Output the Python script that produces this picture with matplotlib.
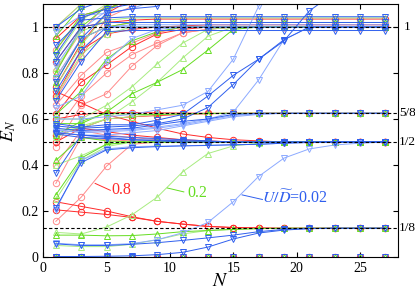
import matplotlib
matplotlib.use("Agg")
import matplotlib.pyplot as plt

plt.rcParams['font.family'] = 'serif'
plt.rcParams['font.serif'] = ['Liberation Serif', 'DejaVu Serif']
plt.rcParams['mathtext.fontset'] = 'stix'

N = [1, 3, 5, 7, 9, 11, 13, 15, 17, 19, 21, 23, 25, 27]

red_main = [
    [0.000, 0.000, 0.000, 0.000, 0.000, 0.000, 0.000, 0.000, 0.000, 0.000, 0.000, 0.000, 0.000, 0.000],
    [0.240, 0.220, 0.200, 0.175, 0.155, 0.143, 0.133, 0.128, 0.126, 0.125, 0.125, 0.125, 0.125, 0.125],
    [0.205, 0.195, 0.185, 0.172, 0.155, 0.143, 0.133, 0.128, 0.126, 0.125, 0.125, 0.125, 0.125, 0.125],
    [0.720, 0.670, 0.620, 0.590, 0.560, 0.535, 0.520, 0.510, 0.505, 0.500, 0.500, 0.500, 0.500, 0.500],
    [0.500, 0.560, 0.545, 0.530, 0.520, 0.510, 0.505, 0.500, 0.500, 0.500, 0.500, 0.500, 0.500, 0.500],
    [0.530, 0.560, 0.600, 0.610, 0.615, 0.620, 0.623, 0.625, 0.625, 0.625, 0.625, 0.625, 0.625, 0.625],
    [0.600, 0.620, 0.628, 0.628, 0.627, 0.626, 0.625, 0.625, 0.625, 0.625, 0.625, 0.625, 0.625, 0.625],
    [0.620, 0.760, 0.835, 0.915, 0.970, 0.990, 1.000, 1.000, 1.000, 1.000, 1.000, 1.000, 1.000, 1.000],
    [0.700, 0.900, 0.970, 0.990, 1.000, 1.005, 1.010, 1.010, 1.010, 1.010, 1.010, 1.010, 1.010, 1.010],
    [0.850, 1.000, 1.020, 1.030, 1.035, 1.035, 1.035, 1.035, 1.035, 1.035, 1.035, 1.035, 1.035, 1.035],
    [0.950, 1.050, 1.080, 1.120, 1.150, 1.180, 1.200, 1.200, 1.200, 1.200, 1.200, 1.200, 1.200, 1.200],
    [0.740, 0.930, 1.060, 1.120, 1.200, 1.200, 1.200, 1.200, 1.200, 1.200, 1.200, 1.200, 1.200, 1.200],
]
red_light = [
    [0.155, 0.260, 0.395, 0.490, 0.500, 0.500, 0.500, 0.500, 0.500, 0.500, 0.500, 0.500, 0.500, 0.500],
    [0.320, 0.520, 0.510, 0.505, 0.500, 0.500, 0.500, 0.500, 0.500, 0.500, 0.500, 0.500, 0.500, 0.500],
    [0.400, 0.550, 0.530, 0.520, 0.510, 0.505, 0.500, 0.500, 0.500, 0.500, 0.500, 0.500, 0.500, 0.500],
    [0.480, 0.660, 0.710, 0.830, 0.920, 0.975, 0.990, 1.000, 1.000, 1.000, 1.000, 1.000, 1.000, 1.000],
    [0.550, 0.700, 0.800, 0.880, 0.930, 0.975, 0.990, 1.000, 1.000, 1.000, 1.000, 1.000, 1.000, 1.000],
    [0.660, 0.790, 0.890, 0.930, 0.975, 1.000, 1.000, 1.000, 1.000, 1.000, 1.000, 1.000, 1.000, 1.000],
    [0.780, 0.950, 1.000, 1.020, 1.020, 1.020, 1.020, 1.020, 1.020, 1.020, 1.020, 1.020, 1.020, 1.020],
    [0.900, 1.040, 1.080, 1.120, 1.150, 1.180, 1.200, 1.200, 1.200, 1.200, 1.200, 1.200, 1.200, 1.200],
    [1.000, 1.100, 1.150, 1.200, 1.200, 1.200, 1.200, 1.200, 1.200, 1.200, 1.200, 1.200, 1.200, 1.200],
    [0.810, 0.980, 1.100, 1.200, 1.200, 1.200, 1.200, 1.200, 1.200, 1.200, 1.200, 1.200, 1.200, 1.200],
    [0.690, 0.870, 1.040, 1.090, 1.130, 1.200, 1.200, 1.200, 1.200, 1.200, 1.200, 1.200, 1.200, 1.200],
]

green_main = [
    [0.000, 0.000, 0.000, 0.000, 0.000, 0.000, 0.000, 0.000, 0.000, 0.000, 0.000, 0.000, 0.000, 0.000],
    [0.095, 0.095, 0.092, 0.093, 0.100, 0.110, 0.115, 0.120, 0.123, 0.125, 0.125, 0.125, 0.125, 0.125],
    [0.270, 0.430, 0.490, 0.500, 0.500, 0.500, 0.500, 0.500, 0.500, 0.500, 0.500, 0.500, 0.500, 0.500],
    [0.420, 0.520, 0.505, 0.500, 0.500, 0.500, 0.500, 0.500, 0.500, 0.500, 0.500, 0.500, 0.500, 0.500],
    [0.530, 0.590, 0.625, 0.620, 0.620, 0.622, 0.624, 0.625, 0.625, 0.625, 0.625, 0.625, 0.625, 0.625],
    [0.580, 0.580, 0.630, 0.710, 0.760, 0.815, 0.900, 0.990, 1.000, 1.000, 1.000, 1.000, 1.000, 1.000],
    [0.620, 0.720, 0.860, 0.940, 0.980, 1.000, 1.000, 1.000, 1.000, 1.000, 1.000, 1.000, 1.000, 1.000],
    [0.760, 0.950, 1.000, 1.020, 1.020, 1.020, 1.020, 1.020, 1.020, 1.020, 1.020, 1.020, 1.020, 1.020],
    [0.900, 1.050, 1.080, 1.120, 1.150, 1.200, 1.200, 1.200, 1.200, 1.200, 1.200, 1.200, 1.200, 1.200],
    [0.800, 1.000, 1.090, 1.200, 1.200, 1.200, 1.200, 1.200, 1.200, 1.200, 1.200, 1.200, 1.200, 1.200],
    [0.960, 1.090, 1.200, 1.200, 1.200, 1.200, 1.200, 1.200, 1.200, 1.200, 1.200, 1.200, 1.200, 1.200],
]
green_light = [
    [0.107, 0.100, 0.130, 0.183, 0.260, 0.370, 0.450, 0.483, 0.495, 0.500, 0.500, 0.500, 0.500, 0.500],
    [0.050, 0.045, 0.045, 0.055, 0.075, 0.100, 0.115, 0.120, 0.124, 0.125, 0.125, 0.125, 0.125, 0.125],
    [0.250, 0.420, 0.480, 0.500, 0.500, 0.500, 0.500, 0.500, 0.500, 0.500, 0.500, 0.500, 0.500, 0.500],
    [0.400, 0.440, 0.490, 0.500, 0.500, 0.500, 0.500, 0.500, 0.500, 0.500, 0.500, 0.500, 0.500, 0.500],
    [0.520, 0.570, 0.600, 0.610, 0.620, 0.622, 0.625, 0.625, 0.625, 0.625, 0.625, 0.625, 0.625, 0.625],
    [0.550, 0.560, 0.600, 0.675, 0.760, 0.865, 0.960, 1.000, 1.000, 1.000, 1.000, 1.000, 1.000, 1.000],
    [0.600, 0.600, 0.660, 0.740, 0.840, 0.930, 0.990, 1.000, 1.000, 1.000, 1.000, 1.000, 1.000, 1.000],
    [0.700, 0.880, 0.970, 1.000, 1.000, 1.000, 1.000, 1.000, 1.000, 1.000, 1.000, 1.000, 1.000, 1.000],
    [0.820, 0.980, 1.030, 1.040, 1.040, 1.040, 1.040, 1.040, 1.040, 1.040, 1.040, 1.040, 1.040, 1.040],
    [1.000, 1.100, 1.150, 1.200, 1.200, 1.200, 1.200, 1.200, 1.200, 1.200, 1.200, 1.200, 1.200, 1.200],
    [0.740, 0.920, 1.060, 1.150, 1.200, 1.200, 1.200, 1.200, 1.200, 1.200, 1.200, 1.200, 1.200, 1.200],
    [0.870, 1.030, 1.100, 1.200, 1.200, 1.200, 1.200, 1.200, 1.200, 1.200, 1.200, 1.200, 1.200, 1.200],
]

blue_main = [
    [0.000, 0.000, 0.000, 0.000, 0.000, 0.000, 0.000, 0.000, 0.000, 0.000, 0.000, 0.000, 0.000, 0.000],
    [0.002, 0.002, 0.003, 0.005, 0.010, 0.020, 0.043, 0.078, 0.104, 0.117, 0.123, 0.125, 0.125, 0.125],
    [0.057, 0.050, 0.050, 0.055, 0.062, 0.072, 0.083, 0.095, 0.110, 0.120, 0.124, 0.125, 0.125, 0.125],
    [0.213, 0.410, 0.466, 0.475, 0.480, 0.483, 0.485, 0.488, 0.490, 0.495, 0.498, 0.500, 0.500, 0.500],
    [0.365, 0.530, 0.520, 0.510, 0.505, 0.500, 0.500, 0.500, 0.500, 0.500, 0.500, 0.500, 0.500, 0.500],
    [0.540, 0.530, 0.525, 0.520, 0.515, 0.510, 0.505, 0.500, 0.500, 0.500, 0.500, 0.500, 0.500, 0.500],
    [0.560, 0.550, 0.555, 0.560, 0.575, 0.590, 0.600, 0.620, 0.625, 0.625, 0.625, 0.625, 0.625, 0.625],
    [0.580, 0.565, 0.575, 0.575, 0.595, 0.620, 0.700, 0.790, 0.860, 0.940, 1.070, 1.150, 1.200, 1.250],
    [0.570, 0.560, 0.565, 0.570, 0.580, 0.600, 0.650, 0.750, 0.860, 0.945, 1.000, 1.000, 1.000, 1.000],
    [0.680, 0.850, 0.980, 0.985, 0.985, 0.985, 0.985, 0.985, 0.985, 0.985, 0.985, 0.985, 0.985, 0.985],
    [0.720, 0.900, 1.000, 1.000, 1.000, 1.000, 1.000, 1.000, 1.000, 1.000, 1.000, 1.000, 1.000, 1.000],
    [0.850, 1.000, 1.020, 1.020, 1.020, 1.020, 1.020, 1.020, 1.020, 1.020, 1.020, 1.020, 1.020, 1.020],
    [0.920, 1.030, 1.040, 1.045, 1.045, 1.045, 1.045, 1.045, 1.045, 1.045, 1.045, 1.045, 1.045, 1.045],
    [1.000, 1.080, 1.120, 1.200, 1.200, 1.200, 1.200, 1.200, 1.200, 1.200, 1.200, 1.200, 1.200, 1.200],
    [0.535, 0.520, 0.515, 0.510, 0.508, 0.505, 0.503, 0.500, 0.500, 0.500, 0.500, 0.500, 0.500, 0.500],
    [0.760, 0.950, 1.060, 1.080, 1.090, 1.200, 1.200, 1.200, 1.200, 1.200, 1.200, 1.200, 1.200, 1.200],
    [0.880, 1.040, 1.080, 1.100, 1.200, 1.200, 1.200, 1.200, 1.200, 1.200, 1.200, 1.200, 1.200, 1.200],
]
blue_light = [
    [0.060, 0.053, 0.053, 0.058, 0.075, 0.105, 0.150, 0.240, 0.350, 0.430, 0.470, 0.487, 0.495, 0.500],
    [0.205, 0.420, 0.470, 0.480, 0.482, 0.484, 0.486, 0.488, 0.490, 0.495, 0.498, 0.500, 0.500, 0.500],
    [0.550, 0.545, 0.550, 0.555, 0.565, 0.580, 0.600, 0.630, 0.770, 0.945, 1.000, 1.000, 1.000, 1.000],
    [0.545, 0.530, 0.530, 0.540, 0.550, 0.570, 0.590, 0.610, 0.620, 0.625, 0.625, 0.625, 0.625, 0.625],
    [0.600, 0.600, 0.610, 0.620, 0.640, 0.660, 0.720, 0.860, 1.090, 1.200, 1.200, 1.200, 1.200, 1.200],
    [0.650, 0.700, 0.850, 0.950, 0.990, 1.000, 1.000, 1.000, 1.000, 1.000, 1.000, 1.000, 1.000, 1.000],
    [0.780, 0.950, 1.000, 1.010, 1.010, 1.010, 1.010, 1.010, 1.010, 1.010, 1.010, 1.010, 1.010, 1.010],
    [0.980, 1.050, 1.060, 1.080, 1.120, 1.200, 1.200, 1.200, 1.200, 1.200, 1.200, 1.200, 1.200, 1.200],
    [0.555, 0.540, 0.545, 0.550, 0.560, 0.575, 0.595, 0.615, 0.622, 0.625, 0.625, 0.625, 0.625, 0.625],
    [0.830, 0.990, 1.070, 1.200, 1.200, 1.200, 1.200, 1.200, 1.200, 1.200, 1.200, 1.200, 1.200, 1.200],
]

ref_levels = [0.125, 0.5, 0.625, 1.0]
ref_labels = ['1/8', '1/2', '5/8', '1']

fig = plt.figure(figsize=(4.15, 2.92), dpi=100)
ax = fig.add_axes([0.104, 0.120, 0.855, 0.866])

styles = [
    (red_light, '#ff8a8a', 'o'), (red_main, '#ff2a2a', 'o'),
    (green_light, '#a8ec80', '^'), (green_main, '#66dd22', '^'),
    (blue_light, '#8caaff', 'v'), (blue_main, '#2f5fee', 'v'),
]
for levels, col, mk in styles:
    for lv in levels:
        ax.plot(N, lv, color=col, lw=0.7, marker=mk, ms=4.6,
                mfc='none', mec=col, mew=0.7)

for lv in ref_levels:
    ax.axhline(lv, color='black', lw=0.8, ls=(0, (3, 2)), zorder=5)
for lv, lb in zip(ref_levels, ref_labels):
    ax.text(28.75, lv, lb, ha='center', va='center', fontsize=9.5, clip_on=False)

ax.set_xlim(0, 28)
ax.set_ylim(0, 1.1)
ax.set_xticks([0, 5, 10, 15, 20, 25])
ax.set_yticks([0, 0.2, 0.4, 0.6, 0.8, 1.0])
ax.set_yticklabels(['0', '0.2', '0.4', '0.6', '0.8', '1'])
ax.tick_params(direction='in', top=True, right=True, labelsize=10, length=3.5, width=0.8)
for s in ax.spines.values():
    s.set_linewidth(0.8)

ax.set_xlabel(r'$N$', fontsize=14, labelpad=-1)
ax.set_ylabel(r'$E_N$', fontsize=13, labelpad=2)

# annotations
ax.plot([4.1, 5.3], [0.32, 0.29], color='#ff2a2a', lw=0.7)
ax.text(6.15, 0.29, '0.8', color='#ff2a2a', fontsize=11.5, ha='center', va='center')
ax.plot([9.8, 11.1], [0.30, 0.283], color='#66dd22', lw=0.7)
ax.text(12.2, 0.28, '0.2', color='#66dd22', fontsize=11.5, ha='center', va='center')
ax.plot([15.7, 17.3], [0.27, 0.25], color='#2f5fee', lw=0.7)
ax.text(19.9, 0.255, r'$U/\widetilde{D}$=0.02', color='#2f5fee', fontsize=11.5,
        ha='center', va='center')

fig.savefig('out.png', dpi=100)
